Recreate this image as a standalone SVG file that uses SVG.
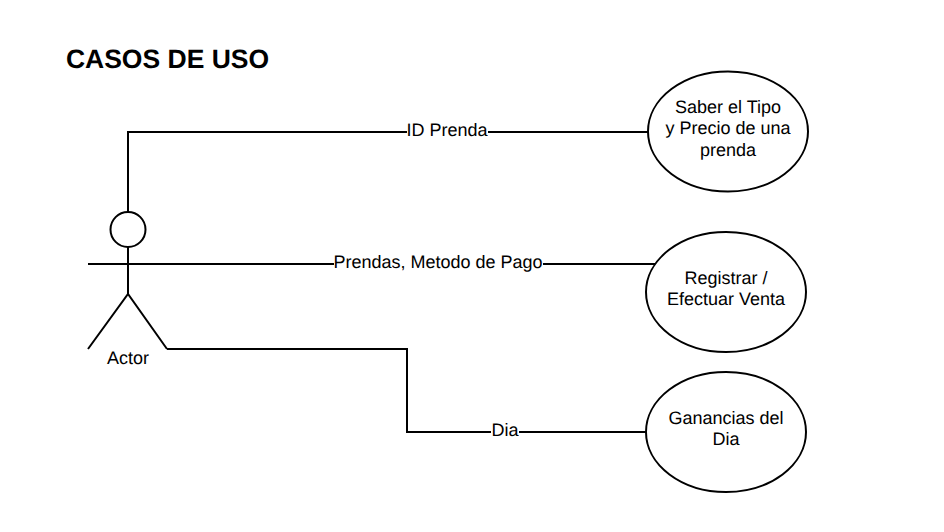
<svg xmlns="http://www.w3.org/2000/svg" width="944" height="532" viewBox="0 0 944 532">
<style>
text{font-family:"Liberation Sans",Arial,sans-serif;font-size:18px;fill:#000;text-anchor:middle;text-rendering:geometricPrecision}
.s{fill:#fff;stroke:#000;stroke-width:2}
.c{fill:none;stroke:#000;stroke-width:2}
.b{fill:#fff;stroke:none}
</style>
<rect width="944" height="532" fill="#fff"/>
<text x="167.500" y="68" style="font-size:26.5px;font-weight:bold">CASOS DE USO</text>
<g id="connectors">
<path class="c" d="M128 212V132H648"/>
<path class="c" d="M128 264H655"/>
<path class="c" d="M167 349H407V432H646"/>
<rect class="b" x="407" y="120" width="81" height="20"/>
<text x="447" y="136">ID Prenda</text>
<rect class="b" x="334" y="253" width="209" height="20"/>
<text x="438" y="268">Prendas, Metodo de Pago</text>
<rect class="b" x="491" y="421" width="28" height="20"/>
<text x="505" y="436">Dia</text>
</g>
<g id="actor">
<circle class="s" cx="128" cy="229.500" r="17.5"/>
<path class="c" d="M128 247V294M88 264H168M88 349L128 294L167 349"/>
<text x="128" y="364">Actor</text>
</g>
<g id="uc1">
<ellipse class="s" cx="728" cy="131.500" rx="80" ry="60"/>
<text x="728" y="113">Saber el Tipo</text>
<text x="728" y="134">y Precio de una</text>
<text x="728" y="156">prenda</text>
</g>
<g id="uc2">
<ellipse class="s" cx="726" cy="292" rx="80" ry="60"/>
<text x="726" y="284">Registrar /</text>
<text x="726" y="305">Efectuar Venta</text>
</g>
<g id="uc3">
<ellipse class="s" cx="726" cy="432" rx="80" ry="60"/>
<text x="726" y="424">Ganancias del</text>
<text x="726" y="445">Dia</text>
</g>
</svg>
